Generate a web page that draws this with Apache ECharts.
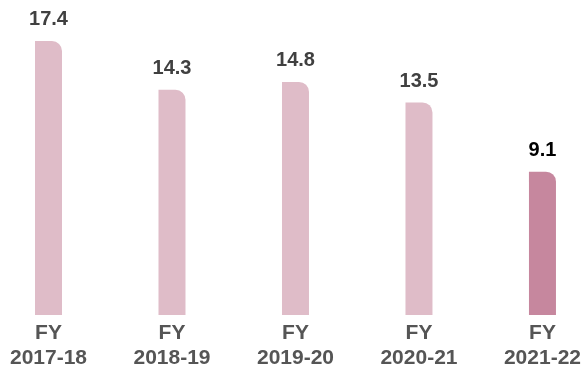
<!DOCTYPE html>
<html>
<head>
<meta charset="utf-8">
<script src="https://cdn.jsdelivr.net/npm/echarts@6/dist/echarts.min.js"></script>
<style>
  html, body { margin: 0; padding: 0; background: #fff; }
  #chart { width: 584px; height: 372px; }
</style>
</head>
<body>
<div id="chart"></div>
<script>
// Fiscal years and their values
const categories = ['FY\n2017-18', 'FY\n2018-19', 'FY\n2019-20', 'FY\n2020-21', 'FY\n2021-22'];
const values = [17.4, 14.3, 14.8, 13.5, 9.1];

const LIGHT = '#dfbcc8';
const DARK = '#c6879e';
const lastIndex = values.length - 1;

const chart = echarts.init(document.getElementById('chart'), null, { renderer: 'canvas' });

chart.setOption({
  animation: false,
  grid: { left: 48.5, right: 40.5, top: -1, bottom: 57, containLabel: false },
  xAxis: {
    type: 'category',
    data: categories,
    boundaryGap: false,
    axisLine: { show: false },
    axisTick: { show: false },
    axisLabel: {
      margin: 6,
      color: '#555555',
      fontFamily: 'Liberation Sans, Arial, sans-serif',
      fontWeight: 'bold',
      fontSize: 21,
      lineHeight: 25
    }
  },
  yAxis: {
    type: 'value',
    min: 0,
    max: 20,
    show: false,
    splitLine: { show: false }
  },
  series: [{
    type: 'bar',
    barWidth: 27,
    data: values.map((v, i) => ({
      value: v,
      itemStyle: { color: i === lastIndex ? DARK : LIGHT },
      label: { color: i === lastIndex ? '#000000' : '#404040' }
    })),
    itemStyle: { borderRadius: [0, 10, 0, 0] },
    label: {
      show: true,
      position: 'top',
      distance: 11,
      fontFamily: 'Liberation Sans, Arial, sans-serif',
      fontWeight: 'bold',
      fontSize: 20,
      formatter: p => p.value.toFixed(1)
    }
  }]
});
</script>
</body>
</html>
